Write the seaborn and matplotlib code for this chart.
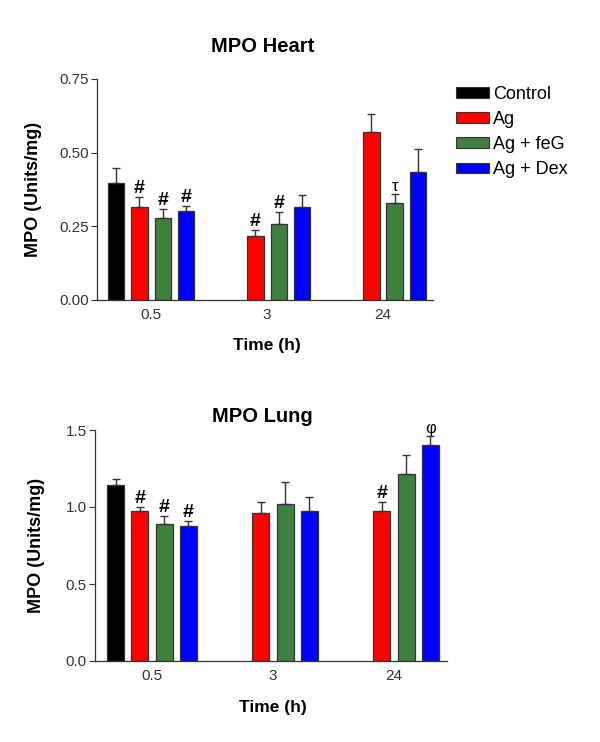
import pandas as pd
import numpy as np
import matplotlib
matplotlib.use("Agg")
import matplotlib.pyplot as plt
import seaborn as sns

# --- data ---
times = ["0.5", "3", "24"]
groups = ["Control", "Ag", "Ag + feG", "Ag + Dex"]
colors = ["#000000", "#FF0000", "#3F7F3F", "#0000FF"]

bar_time = ["0.5", "0.5", "0.5", "0.5", "3", "3", "3", "24", "24", "24"]
bar_group = ["Control", "Ag", "Ag + feG", "Ag + Dex",
             "Ag", "Ag + feG", "Ag + Dex",
             "Ag", "Ag + feG", "Ag + Dex"]

heart_mean = [0.398, 0.317, 0.279, 0.303, 0.218, 0.259, 0.317, 0.571, 0.330, 0.434]
heart_sem = [0.051, 0.031, 0.031, 0.017, 0.021, 0.041, 0.040, 0.061, 0.030, 0.078]
heart_mark = ["", "#", "#", "#", "#", "#", "", "", "τ", ""]

lung_mean = [1.143, 0.974, 0.890, 0.877, 0.961, 1.019, 0.976, 0.976, 1.216, 1.403]
lung_sem = [0.037, 0.026, 0.052, 0.034, 0.074, 0.143, 0.089, 0.059, 0.122, 0.058]
lung_mark = ["", "#", "#", "#", "", "", "", "#", "", "φ"]

sns.set_style("ticks")
plt.rcParams["font.family"] = ["Liberation Sans", "DejaVu Sans"]
plt.rcParams["text.color"] = "black"
plt.rcParams["axes.labelcolor"] = "black"

fig = plt.figure(figsize=(6, 7.42), dpi=100)
ax_h = fig.add_axes([97 / 600, 1 - 300 / 742, 336 / 600, 221 / 742])
ax_l = fig.add_axes([95 / 600, 1 - 661 / 742, 352 / 600, 231 / 742])


def draw_panel(ax, mean, sem, marks, ylim, yticks, fmt, xlim):
    df = pd.DataFrame({"time": bar_time, "group": bar_group, "mpo": mean})
    sns.barplot(data=df, x="time", y="mpo", hue="group", order=times,
                hue_order=groups, palette=colors, saturation=1, width=0.8,
                gap=0.3, edgecolor="#333333", linewidth=0.9, errorbar=None,
                legend=False, ax=ax)
    # upward-only error bars at the dodged bar centres
    pos = [times.index(t) + (groups.index(g) - 1.5) * 0.2
           for t, g in zip(bar_time, bar_group)]
    ax.errorbar(pos, mean, yerr=[np.zeros(len(sem)), sem], fmt="none",
                ecolor="#333333", elinewidth=1, capsize=3, capthick=1, zorder=1)
    for p, m, s, k in zip(pos, mean, sem, marks):
        if k:
            ax.text(p, m + s, k, ha="center", va="bottom",
                    fontsize=14 if k == "#" else 12,
                    fontweight="bold" if k == "#" else "normal",
                    clip_on=False)
    ax.set_ylim(*ylim)
    ax.set_xlim(*xlim)
    ax.set_yticks(yticks)
    ax.set_yticklabels([fmt.format(v) for v in yticks])
    ax.tick_params(axis="y", length=4, width=0.8, colors="#333333",
                   labelsize=11, pad=2)
    ax.tick_params(axis="x", length=0, labelsize=11, colors="#333333", pad=6)
    for sp in ["top", "right"]:
        ax.spines[sp].set_visible(False)
    for sp in ["left", "bottom"]:
        ax.spines[sp].set_color("#333333")
        ax.spines[sp].set_linewidth(0.9)
    ax.set_ylabel("MPO (Units/mg)", fontsize=13, fontweight="bold")
    ax.set_xlabel("Time (h)", fontsize=12.5, fontweight="bold")


draw_panel(ax_h, heart_mean, heart_sem, heart_mark, (0, 0.75),
           [0, 0.25, 0.5, 0.75], "{:.2f}", (-0.466, 2.431))
draw_panel(ax_l, lung_mean, lung_sem, lung_mark, (0, 1.5),
           [0, 0.5, 1.0, 1.5], "{:.1f}", (-0.471, 2.438))

ax_h.yaxis.set_label_coords(-0.164, 0.5)
ax_l.yaxis.set_label_coords(-0.142, 0.5)
ax_h.xaxis.set_label_coords(0.506, -0.172)
ax_l.xaxis.set_label_coords(0.506, -0.169)

fig.text(263 / 600, 1 - 46 / 742, "MPO Heart", ha="center", va="center",
         fontsize=14.5, fontweight="bold")
fig.text(262 / 600, 1 - 417 / 742, "MPO Lung", ha="center", va="center",
         fontsize=14.5, fontweight="bold")

handles = [plt.Rectangle((0, 0), 1, 1, facecolor=c, edgecolor="#333333",
                         linewidth=0.8) for c in colors]
fig.legend(handles, groups, loc="upper left", bbox_to_anchor=(0.733, 0.906),
           frameon=False, fontsize=13, handlelength=1.85, handleheight=0.55,
           handletextpad=0.2, labelspacing=0.45)

fig.savefig("out.png", dpi=100)
